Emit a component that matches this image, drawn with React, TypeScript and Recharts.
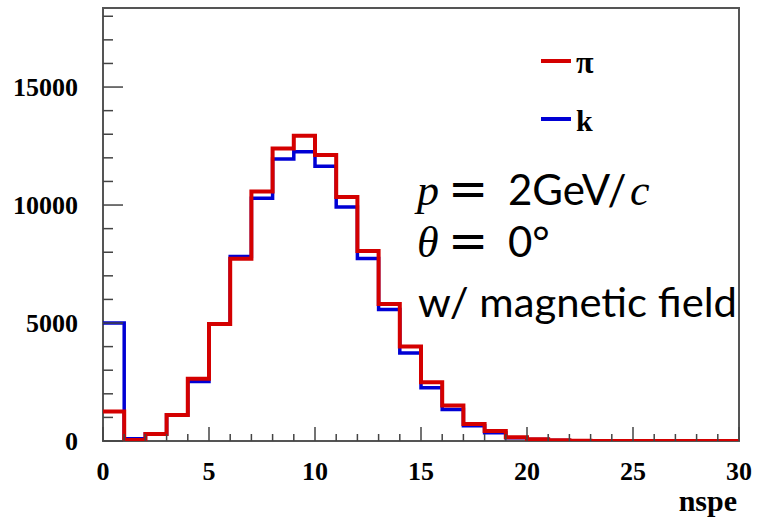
import React from 'react';
import { LineChart, Line, XAxis, YAxis, ReferenceArea } from 'recharts';

// ---- data (bin contents, bins of width 1 from 0 to 30) ----
const binEdges = [0, 1, 2, 3, 4, 5, 6, 7, 8, 9, 10, 11, 12, 13, 14, 15, 16, 17, 18, 19, 20, 21, 22, 23, 24, 25, 26, 27, 28, 29, 30];
const piCounts = [1250, 40, 300, 1100, 2640, 4960, 7720, 10570, 12400, 12940, 12120, 10340, 8050, 5810, 4010, 2490, 1500, 720, 420, 160, 70, 30, 10, 5, 3, 2, 1, 0, 0, 0];
const kCounts = [5000, 100, 300, 1100, 2520, 4950, 7820, 10290, 11950, 12260, 11640, 9920, 7730, 5570, 3730, 2260, 1330, 650, 350, 140, 60, 20, 10, 4, 2, 1, 0, 0, 0, 0];
const xTicks = [0, 1, 2, 3, 4, 5, 6, 7, 8, 9, 10, 11, 12, 13, 14, 15, 16, 17, 18, 19, 20, 21, 22, 23, 24, 25, 26, 27, 28, 29, 30];
const yTicks = [0, 1000, 2000, 3000, 4000, 5000, 6000, 7000, 8000, 9000, 10000, 11000, 12000, 13000, 14000, 15000, 16000, 17000, 18000];
const xMajorStep = 5;
const yMajorStep = 5000;
const yMax = 18350;
const xTitle = 'nspe';
const seriesNames = ['π', 'k'];
const seriesKeys = ['pi', 'k'];
const seriesColors = ['#d40000', '#0000d4'];

const data = binEdges.map((e, i) => ({
  x: e,
  pi: piCounts[Math.min(i, piCounts.length - 1)],
  k: kCounts[Math.min(i, kCounts.length - 1)],
}));

// ---- layout ----
const W = 762;
const H = 520;
const PL = 103;
const PT = 8;
const PR = 739;
const PB = 441;

const labelFont = { fontFamily: '"Liberation Serif", "Times New Roman", serif', fontWeight: 700 } as const;

const YTick = (props: any) => {
  const { y, payload } = props;
  const v = payload.value as number;
  const major = v % yMajorStep === 0;
  return (
    <g>
      <line x1={PL} x2={PL + (major ? 20 : 10)} y1={y} y2={y} stroke="#444" strokeWidth={1.5} />
      {major && (
        <text x={78} y={y} textAnchor="end" dominantBaseline="central" fontSize={26} fill="#000" {...labelFont}>
          {v}
        </text>
      )}
    </g>
  );
};

const XTick = (props: any) => {
  const { x, payload } = props;
  const v = payload.value as number;
  const major = v % xMajorStep === 0;
  return (
    <g>
      <line x1={x} x2={x} y1={PB} y2={PB - (major ? 14 : 7)} stroke="#444" strokeWidth={1.5} />
      {major && (
        <text x={x} y={471} textAnchor="middle" dominantBaseline="central" fontSize={26} fill="#000" {...labelFont}>
          {v}
        </text>
      )}
    </g>
  );
};

export default function App() {
  return (
    <div style={{ position: 'absolute', left: 0, top: 0, width: W, height: H, background: '#fff', overflow: 'hidden' }}>
      <LineChart width={W} height={H} data={data} margin={{ top: PT, right: W - PR, bottom: 0, left: 0 }}>
        <XAxis
          dataKey="x"
          type="number"
          domain={[0, 30]}
          ticks={xTicks}
          interval={0}
          height={H - PB}
          axisLine={false}
          tickLine={false}
          tick={<XTick />}
        />
        <YAxis
          type="number"
          domain={[0, yMax]}
          ticks={yTicks}
          interval={0}
          width={PL}
          axisLine={false}
          tickLine={false}
          allowDataOverflow
          tick={<YTick />}
        />
        <ReferenceArea x1={0} x2={30} y1={0} y2={yMax} fill="none" stroke="#555" strokeWidth={2} ifOverflow="visible" />
        <Line
          dataKey={seriesKeys[1]}
          name={seriesNames[1]}
          type="stepAfter"
          stroke={seriesColors[1]}
          strokeWidth={3.5}
          dot={false}
          activeDot={false}
          strokeLinejoin="miter"
          isAnimationActive={false}
        />
        <Line
          dataKey={seriesKeys[0]}
          name={seriesNames[0]}
          type="stepAfter"
          stroke={seriesColors[0]}
          strokeWidth={4}
          dot={false}
          activeDot={false}
          strokeLinejoin="miter"
          isAnimationActive={false}
        />
      </LineChart>
      <svg width={W} height={H} style={{ position: 'absolute', left: 0, top: 0, pointerEvents: 'none' }}>
        {/* legend */}
        {seriesNames.map((n, i) => (
          <g key={n}>
            <line x1={541} x2={571} y1={61 + i * 58} y2={61 + i * 58} stroke={seriesColors[i]} strokeWidth={4} />
            <text x={576} y={i === 0 ? 73 : 131} fontSize={i === 0 ? 32 : 30} fill="#000" {...labelFont}>
              {n}
            </text>
          </g>
        ))}
        {/* axis title */}
        <text x={737} y={511} textAnchor="end" fontSize={30} fill="#000" {...labelFont}>
          {xTitle}
        </text>
        {/* annotation */}
        <text y={205} fontSize={42} fill="#000">
          <tspan x={417} fontFamily='"Liberation Serif", serif' fontStyle="italic" fontSize={44}>p</tspan>
          <tspan x={448} fontFamily='"DejaVu Sans", sans-serif' fontSize={48}>=</tspan>
          <tspan x={508} fontFamily="Lato, sans-serif">2GeV/</tspan>
          <tspan x={630} fontFamily='"Liberation Serif", serif' fontStyle="italic" fontSize={44}>c</tspan>
        </text>
        <text y={257} fontSize={42} fill="#000">
          <tspan x={417} fontFamily='"Liberation Serif", serif' fontStyle="italic" fontSize={44}>θ</tspan>
          <tspan x={448} fontFamily='"DejaVu Sans", sans-serif' fontSize={48}>=</tspan>
          <tspan x={508} fontFamily="Lato, sans-serif">0°</tspan>
        </text>
        <text x={418} y={317} fontSize={40} fill="#000" fontFamily="Lato, sans-serif" textLength={319} lengthAdjust="spacingAndGlyphs">
          w/ magnetic field
        </text>
      </svg>
    </div>
  );
}
